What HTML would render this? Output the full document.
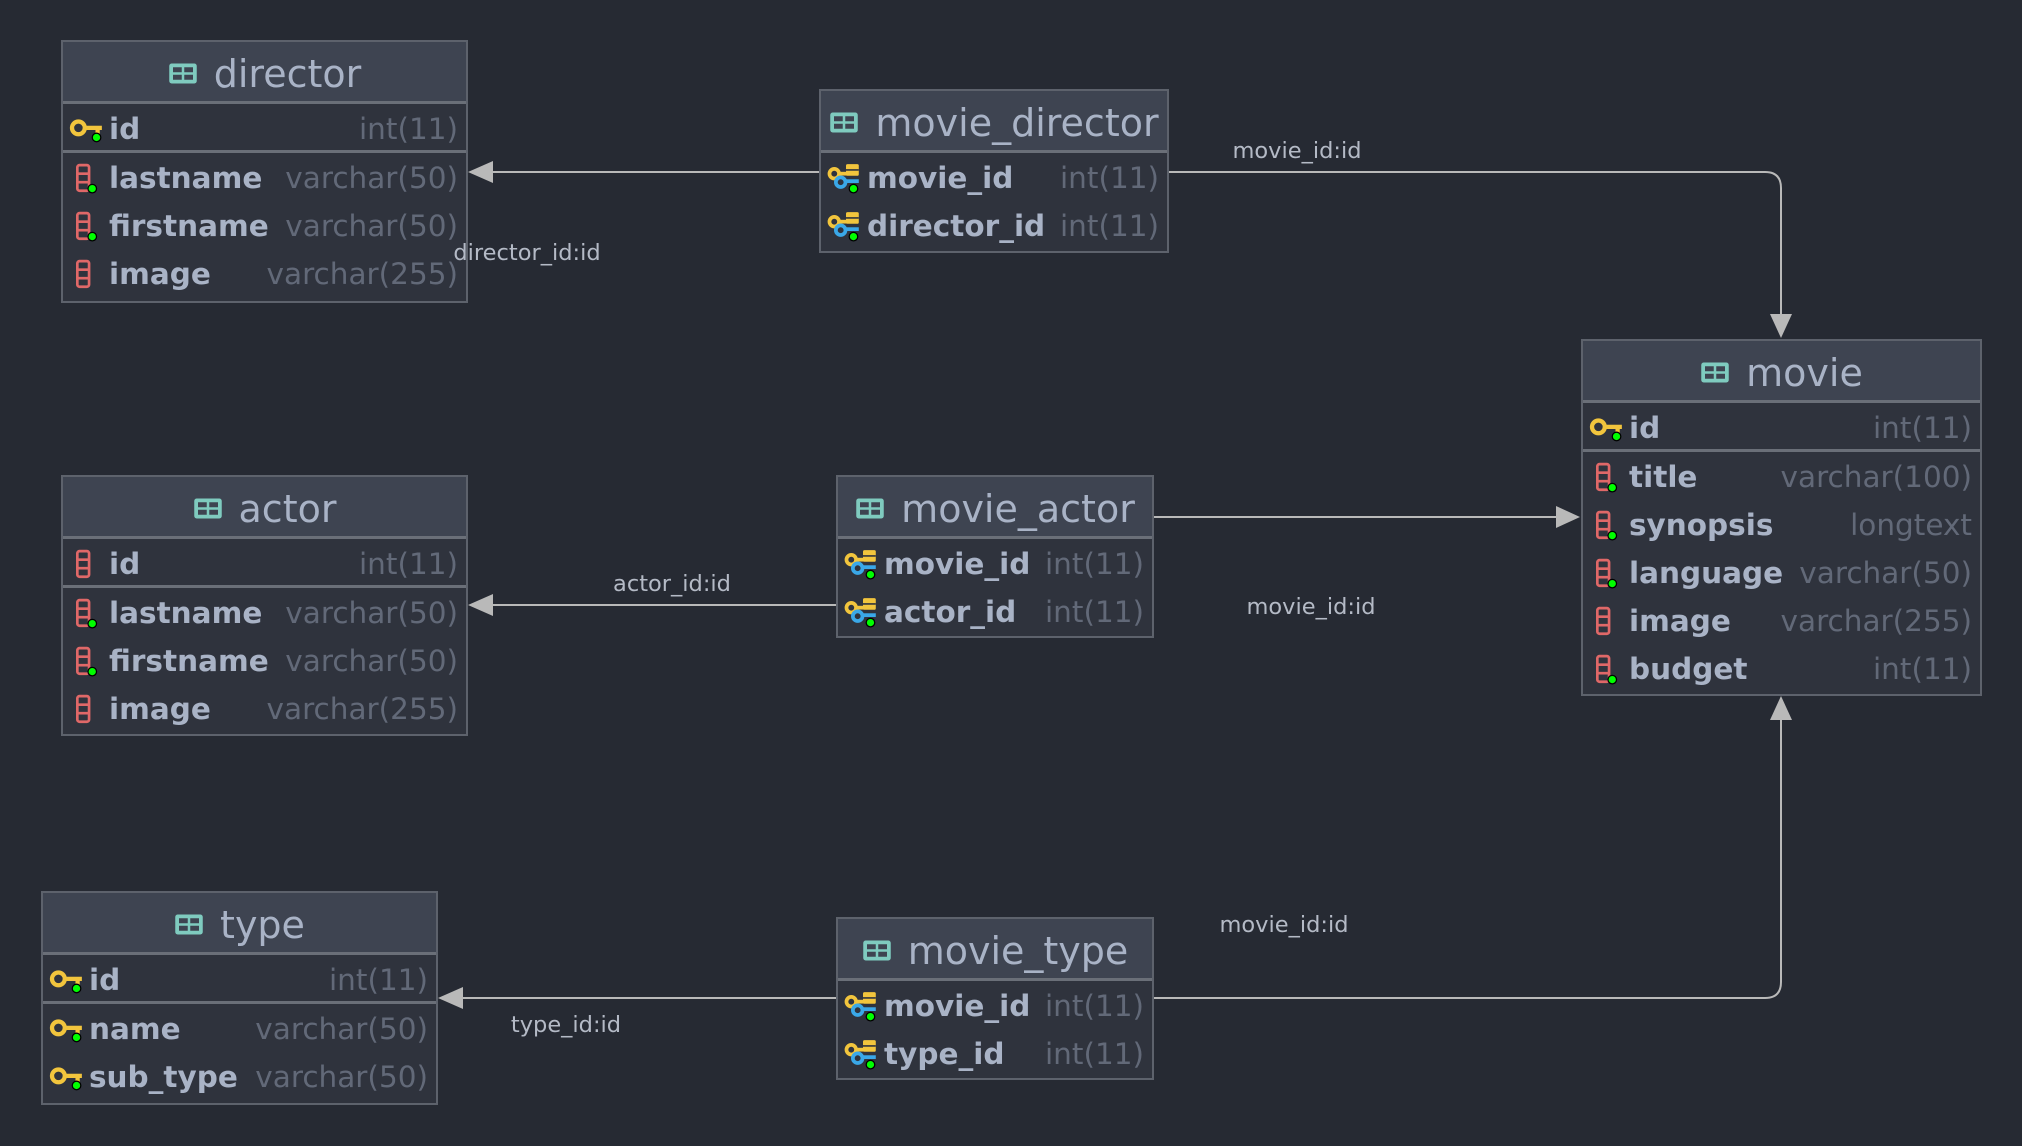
<!DOCTYPE html>
<html><head><meta charset="utf-8"><style>
*{box-sizing:border-box;margin:0;padding:0}
body{width:2022px;height:1146px;background:#262a33;position:relative;overflow:hidden;font-family:"DejaVu Sans","Liberation Sans",sans-serif}
.t{position:absolute;background:#2f333d;border:2px solid #5d626c}
.h{height:62px;background:#3e4451;border-bottom:3px solid #6a6f78;color:#a9b3c6;font-size:38px;display:flex;align-items:center;justify-content:center;gap:16px;padding-top:4px}
.r{height:48px;position:relative;font-size:29.5px}
.r.pk{border-bottom:3px solid #6a6f78;height:49px}
.n{position:absolute;left:46px;top:8px;font-weight:bold;color:#a9b3c6}
.y{position:absolute;right:8px;top:8px;color:#626978}
.i{position:absolute;left:6px;top:10px;width:38px;height:32px}
.lbl{position:absolute;color:#b4bac6;font-size:22.5px;white-space:nowrap;transform:translate(-50%,-50%)}
</style></head><body>
<svg width="0" height="0" style="position:absolute">
<defs>
<symbol id="tb" viewBox="0 0 24 18"><rect x="1" y="1" width="22" height="16" rx="2" fill="#7fcbbf"/><rect x="4" y="4" width="7" height="4" fill="#3e4451"/><rect x="13" y="4" width="7" height="4" fill="#3e4451"/><rect x="4" y="10" width="7" height="4" fill="#3e4451"/><rect x="13" y="10" width="7" height="4" fill="#3e4451"/></symbol>
<symbol id="pk" viewBox="0 0 34 30"><circle cx="8" cy="13" r="6" fill="none" stroke="#f2c53d" stroke-width="4"/><rect x="13" y="11" width="17" height="4" fill="#f2c53d"/><rect x="24" y="13" width="4" height="7" fill="#f2c53d"/><circle cx="25" cy="22" r="4" fill="#0f0" stroke="#000" stroke-width="1.2"/></symbol>
<symbol id="col" viewBox="0 0 34 30"><rect x="7" y="2" width="11" height="24" rx="2" fill="none" stroke="#e06868" stroke-width="2.5"/><line x1="7" y1="10" x2="18" y2="10" stroke="#e06868" stroke-width="2.5"/><line x1="7" y1="18" x2="18" y2="18" stroke="#e06868" stroke-width="2.5"/><circle cx="21" cy="24" r="4" fill="#0f0" stroke="#000" stroke-width="1.2"/></symbol>
<symbol id="col0" viewBox="0 0 34 30"><rect x="7" y="2" width="11" height="24" rx="2" fill="none" stroke="#e06868" stroke-width="2.5"/><line x1="7" y1="10" x2="18" y2="10" stroke="#e06868" stroke-width="2.5"/><line x1="7" y1="18" x2="18" y2="18" stroke="#e06868" stroke-width="2.5"/></symbol>
<symbol id="fk" viewBox="0 0 34 30"><rect x="17" y="1" width="12" height="11" rx="1.5" fill="#f2c53d"/><line x1="17" y1="6.5" x2="29" y2="6.5" stroke="#2f333d" stroke-width="1.5"/><circle cx="6" cy="10" r="4.5" fill="none" stroke="#f2c53d" stroke-width="3.5"/><line x1="10" y1="10" x2="18" y2="10" stroke="#f2c53d" stroke-width="3.5"/><circle cx="12" cy="18" r="4.5" fill="none" stroke="#3aa8e8" stroke-width="3.5"/><line x1="16" y1="17" x2="29" y2="17" stroke="#3aa8e8" stroke-width="3.5"/><circle cx="24" cy="24" r="4" fill="#0f0" stroke="#000" stroke-width="1.2"/></symbol>
</defs></svg>

<svg width="2022" height="1146" style="position:absolute;left:0;top:0">
<g stroke="#b9b9b9" stroke-width="2" fill="none">
<line x1="819" y1="172" x2="486" y2="172"/>
<path d="M1168 172 H1765 Q1781 172 1781 188 V318"/>
<line x1="836" y1="605" x2="486" y2="605"/>
<line x1="1153" y1="517" x2="1562" y2="517"/>
<line x1="836" y1="998" x2="456" y2="998"/>
<path d="M1153 998 H1765 Q1781 998 1781 982 V716"/>
</g>
<g fill="#b9b9b9">
<polygon points="468,172 493,161 493,183"/>
<polygon points="1781,338 1770,314 1792,314"/>
<polygon points="468,605 493,594 493,616"/>
<polygon points="1580,517 1556,506 1556,528"/>
<polygon points="438,998 463,987 463,1009"/>
<polygon points="1781,696 1770,720 1792,720"/>
</g>
</svg>

<div class="t" style="left:61px;top:40px;width:407px;height:263px">
<div class="h"><svg width="30" height="23"><use href="#tb"/></svg>director</div>
<div class="r pk"><svg class="i"><use href="#pk"/></svg><span class="n">id</span><span class="y">int(11)</span></div>
<div class="r"><svg class="i"><use href="#col"/></svg><span class="n">lastname</span><span class="y">varchar(50)</span></div>
<div class="r"><svg class="i"><use href="#col"/></svg><span class="n">firstname</span><span class="y">varchar(50)</span></div>
<div class="r"><svg class="i"><use href="#col0"/></svg><span class="n">image</span><span class="y">varchar(255)</span></div>
</div>

<div class="t" style="left:819px;top:89px;width:350px;height:164px">
<div class="h"><svg width="30" height="23"><use href="#tb"/></svg>movie_director</div>
<div class="r"><svg class="i"><use href="#fk"/></svg><span class="n">movie_id</span><span class="y">int(11)</span></div>
<div class="r"><svg class="i"><use href="#fk"/></svg><span class="n">director_id</span><span class="y">int(11)</span></div>
</div>

<div class="t" style="left:1581px;top:339px;width:401px;height:357px">
<div class="h"><svg width="30" height="23"><use href="#tb"/></svg>movie</div>
<div class="r pk"><svg class="i"><use href="#pk"/></svg><span class="n">id</span><span class="y">int(11)</span></div>
<div class="r"><svg class="i"><use href="#col"/></svg><span class="n">title</span><span class="y">varchar(100)</span></div>
<div class="r"><svg class="i"><use href="#col"/></svg><span class="n">synopsis</span><span class="y">longtext</span></div>
<div class="r"><svg class="i"><use href="#col"/></svg><span class="n">language</span><span class="y">varchar(50)</span></div>
<div class="r"><svg class="i"><use href="#col0"/></svg><span class="n">image</span><span class="y">varchar(255)</span></div>
<div class="r"><svg class="i"><use href="#col"/></svg><span class="n">budget</span><span class="y">int(11)</span></div>
</div>

<div class="t" style="left:61px;top:475px;width:407px;height:261px">
<div class="h"><svg width="30" height="23"><use href="#tb"/></svg>actor</div>
<div class="r pk"><svg class="i"><use href="#col0"/></svg><span class="n">id</span><span class="y">int(11)</span></div>
<div class="r"><svg class="i"><use href="#col"/></svg><span class="n">lastname</span><span class="y">varchar(50)</span></div>
<div class="r"><svg class="i"><use href="#col"/></svg><span class="n">firstname</span><span class="y">varchar(50)</span></div>
<div class="r"><svg class="i"><use href="#col0"/></svg><span class="n">image</span><span class="y">varchar(255)</span></div>
</div>

<div class="t" style="left:836px;top:475px;width:318px;height:163px">
<div class="h"><svg width="30" height="23"><use href="#tb"/></svg>movie_actor</div>
<div class="r"><svg class="i"><use href="#fk"/></svg><span class="n">movie_id</span><span class="y">int(11)</span></div>
<div class="r"><svg class="i"><use href="#fk"/></svg><span class="n">actor_id</span><span class="y">int(11)</span></div>
</div>

<div class="t" style="left:41px;top:891px;width:397px;height:214px">
<div class="h"><svg width="30" height="23"><use href="#tb"/></svg>type</div>
<div class="r pk"><svg class="i"><use href="#pk"/></svg><span class="n">id</span><span class="y">int(11)</span></div>
<div class="r"><svg class="i"><use href="#pk"/></svg><span class="n">name</span><span class="y">varchar(50)</span></div>
<div class="r"><svg class="i"><use href="#pk"/></svg><span class="n">sub_type</span><span class="y">varchar(50)</span></div>
</div>

<div class="t" style="left:836px;top:917px;width:318px;height:163px">
<div class="h"><svg width="30" height="23"><use href="#tb"/></svg>movie_type</div>
<div class="r"><svg class="i"><use href="#fk"/></svg><span class="n">movie_id</span><span class="y">int(11)</span></div>
<div class="r"><svg class="i"><use href="#fk"/></svg><span class="n">type_id</span><span class="y">int(11)</span></div>
</div>

<div class="lbl" style="left:527px;top:253px">director_id:id</div>
<div class="lbl" style="left:1297px;top:151px">movie_id:id</div>
<div class="lbl" style="left:672px;top:584px">actor_id:id</div>
<div class="lbl" style="left:1311px;top:607px">movie_id:id</div>
<div class="lbl" style="left:566px;top:1025px">type_id:id</div>
<div class="lbl" style="left:1284px;top:925px">movie_id:id</div>
</body></html>
